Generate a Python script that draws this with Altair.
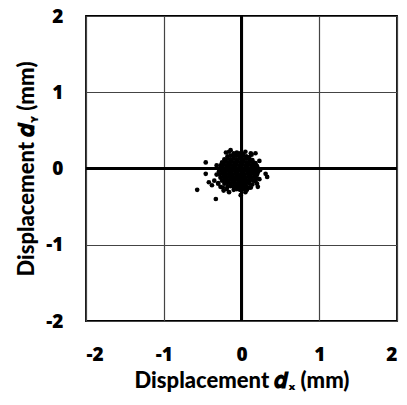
import altair as alt
import pandas as pd

# Dense core of displacement readings (mm), listed row by row (dx, then dy)
core_x = [
    -0.10, -0.06, -0.02, 0.02,
    -0.18, -0.14, -0.10, -0.06, -0.02, 0.02, 0.06, 0.10,
    -0.22, -0.18, -0.14, -0.10, -0.06, -0.02, 0.02, 0.06, 0.10, 0.14,
    -0.25, -0.21, -0.17, -0.13, -0.09, -0.05, -0.01, 0.03, 0.07, 0.11, 0.15, 0.18,
    -0.27, -0.23, -0.19, -0.15, -0.11, -0.07, -0.03, 0.01, 0.05, 0.09, 0.13, 0.17, 0.20,
    -0.28, -0.24, -0.20, -0.16, -0.12, -0.08, -0.04, 0.00, 0.04, 0.08, 0.12, 0.16, 0.20,
    -0.29, -0.25, -0.21, -0.17, -0.13, -0.09, -0.05, -0.01, 0.03, 0.07, 0.11, 0.15, 0.19, 0.21,
    -0.28, -0.24, -0.20, -0.16, -0.12, -0.08, -0.04, 0.00, 0.04, 0.08, 0.12, 0.16, 0.20,
    -0.27, -0.23, -0.19, -0.15, -0.11, -0.07, -0.03, 0.01, 0.05, 0.09, 0.13, 0.17, 0.20,
    -0.25, -0.21, -0.17, -0.13, -0.09, -0.05, -0.01, 0.03, 0.07, 0.11, 0.15, 0.18,
    -0.22, -0.18, -0.14, -0.10, -0.06, -0.02, 0.02, 0.06, 0.10, 0.14,
    -0.18, -0.14, -0.10, -0.06, -0.02, 0.02, 0.06, 0.10,
    -0.10, -0.06, -0.02, 0.02,
]
core_y = [
    0.20, 0.21, 0.20, 0.19,
    0.16, 0.17, 0.16, 0.17, 0.16, 0.17, 0.16, 0.15,
    0.12, 0.13, 0.12, 0.13, 0.12, 0.13, 0.12, 0.13, 0.12, 0.11,
    0.08, 0.09, 0.08, 0.09, 0.08, 0.09, 0.08, 0.09, 0.08, 0.09, 0.08, 0.07,
    0.04, 0.05, 0.04, 0.05, 0.04, 0.05, 0.04, 0.05, 0.04, 0.05, 0.04, 0.05, 0.03,
    0.00, 0.01, 0.00, 0.01, 0.00, 0.01, 0.00, 0.01, 0.00, 0.01, 0.00, 0.01, 0.00,
    -0.04, -0.03, -0.04, -0.03, -0.04, -0.03, -0.04, -0.03, -0.04, -0.03, -0.04, -0.03, -0.04, -0.05,
    -0.08, -0.07, -0.08, -0.07, -0.08, -0.07, -0.08, -0.07, -0.08, -0.07, -0.08, -0.07, -0.08,
    -0.12, -0.11, -0.12, -0.11, -0.12, -0.11, -0.12, -0.11, -0.12, -0.11, -0.12, -0.11, -0.13,
    -0.16, -0.15, -0.16, -0.15, -0.16, -0.15, -0.16, -0.15, -0.16, -0.15, -0.16, -0.17,
    -0.20, -0.19, -0.20, -0.19, -0.20, -0.19, -0.20, -0.19, -0.20, -0.21,
    -0.24, -0.23, -0.24, -0.23, -0.24, -0.23, -0.24, -0.25,
    -0.28, -0.27, -0.28, -0.27,
]

# Scattered readings around the rim and outliers (mm)
outer_x = [-0.20, 0.05, 0.13, 0.23, 0.24, -0.32, -0.32, 0.23, 0.20, -0.30, -0.16, 0.07,
           -0.24, 0.12, -0.46, -0.46, -0.57, -0.33, -0.42, -0.38, -0.27, -0.23, -0.16,
           -0.14, 0.18, 0.12, 0.33, 0.31, 0.21, 0.05, -0.01, -0.35, -0.30, -0.19]
outer_y = [0.21, 0.22, 0.18, 0.10, -0.02, -0.08, 0.04, -0.14, -0.20, -0.19, 0.22, -0.28,
           -0.25, -0.25, 0.08, -0.07, -0.28, -0.40, -0.18, -0.22, -0.24, -0.29, -0.31,
           0.24, 0.20, 0.20, -0.11, -0.07, -0.24, -0.31, -0.35, -0.16, -0.20, -0.27]

tick_values = [-2, -1, 0, 1, 2]

df = pd.DataFrame({"dx": core_x + outer_x, "dy": core_y + outer_y})

LABEL_FONT = "Open Sans"
TITLE_FONT = "Lato"
LABEL_EXPR = "datum.value < 0 ? '-' + (-datum.value) : '' + datum.value"

x_scale = alt.Scale(domain=[-2, 2], nice=False)
y_scale = alt.Scale(domain=[-2, 2], nice=False)

points = alt.Chart(df).mark_circle(size=22, color="black", opacity=1).encode(
    x=alt.X("dx:Q", scale=x_scale, title="Displacement 𝒅ₓ (mm)",
            axis=alt.Axis(values=tick_values, grid=True, domain=False, ticks=False,
                          labelPadding=24, titlePadding=6, labelExpr=LABEL_EXPR)),
    y=alt.Y("dy:Q", scale=y_scale, title="Displacement 𝒅ᵧ (mm)",
            axis=alt.Axis(values=tick_values, grid=True, domain=False, ticks=False,
                          labelPadding=23, titlePadding=7, labelExpr=LABEL_EXPR)),
)

zero_x = alt.Chart().mark_rule(color="black", strokeWidth=3).encode(x=alt.datum(0, scale=x_scale))
zero_y = alt.Chart().mark_rule(color="black", strokeWidth=3).encode(y=alt.datum(0, scale=y_scale))

chart = (
    alt.layer(points, zero_x, zero_y)
    .properties(
        width=311, height=305,
        autosize=alt.AutoSizeParams(type="none"),
        padding={"left": 78, "top": 8, "right": 2, "bottom": 76},
    )
    .configure_view(stroke="black", strokeWidth=1.8)
    .configure_axis(
        gridColor="#444444", gridWidth=1.2, gridOpacity=1,
        labelFont=LABEL_FONT, labelFontSize=19, labelFontWeight=800, labelColor="black",
        titleFont=TITLE_FONT, titleFontSize=22, titleFontWeight=900, titleColor="black",
    )
)

chart.save("out.html", embed_options={"renderer": "svg", "actions": False})
